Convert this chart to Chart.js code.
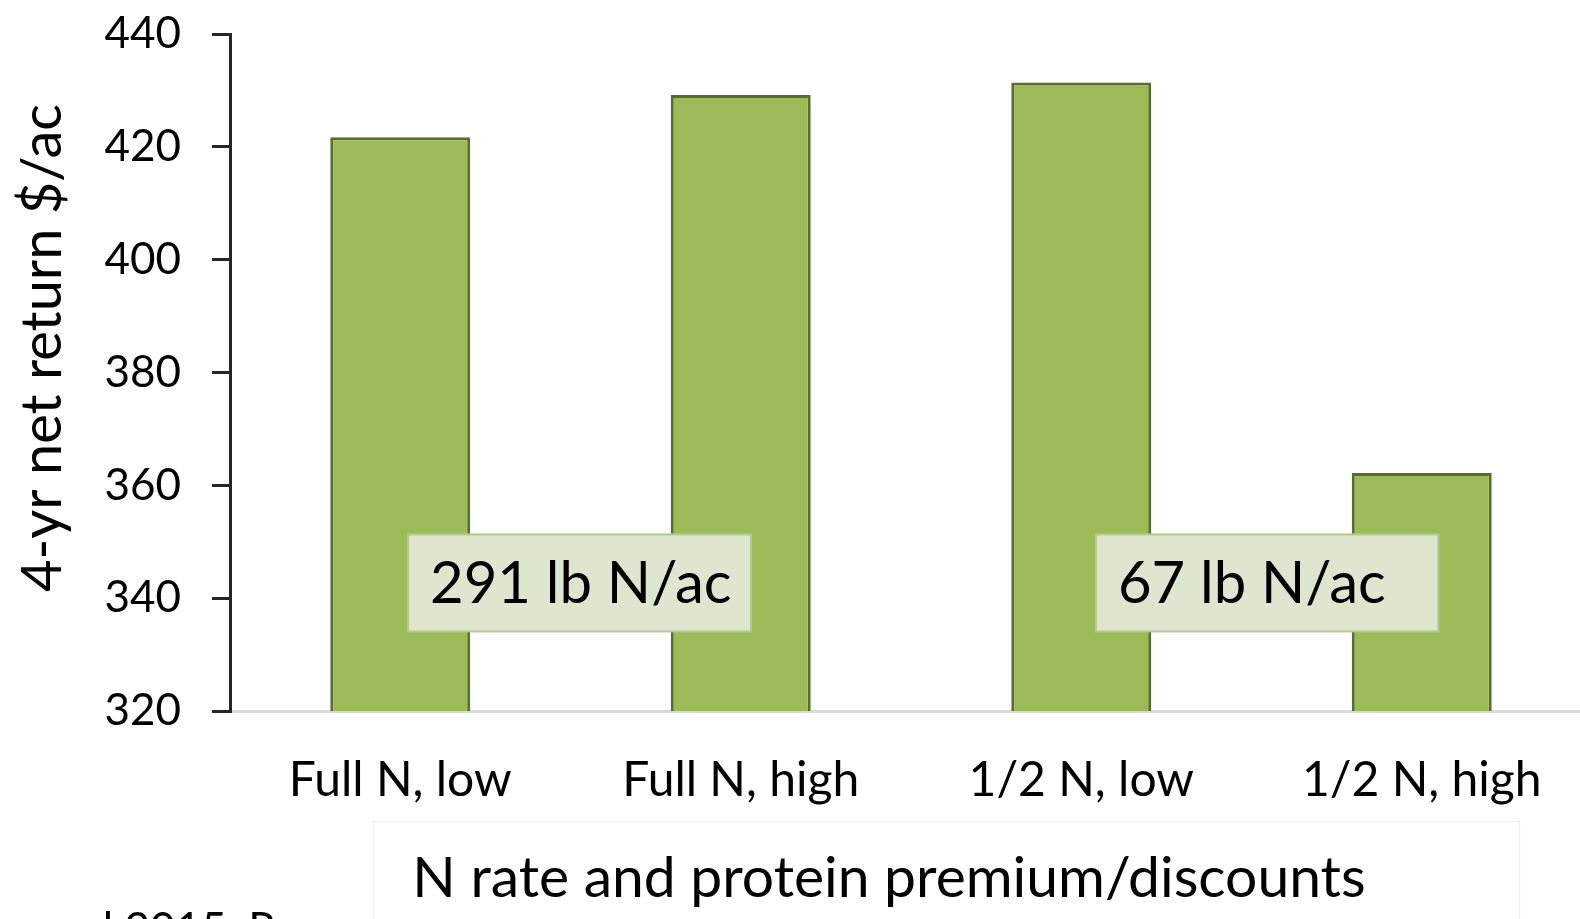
<!DOCTYPE html>
<html>
<head>
<meta charset="utf-8">
<script src="https://cdn.jsdelivr.net/npm/chart.js@4.4.1/dist/chart.umd.min.js"></script>
<style>
  html, body { margin: 0; padding: 0; background: #ffffff; overflow: hidden; }
  #wrap { position: relative; width: 1592px; height: 919px; }
</style>
</head>
<body>
<div id="wrap"><canvas id="chart"></canvas></div>
<script>
// Treatments: N rate and protein premium/discount scenario
const categories = ['Full N, low', 'Full N, high', '1/2 N, low', '1/2 N, high'];
// 4-year net return, $/ac
const netReturn = [421.7, 429.2, 431.4, 362.2];
// Y axis tick values
const yTicks = [320, 340, 360, 380, 400, 420, 440];
// N rate notes for each pair of treatments
const rateNotes = ['291 lb N/ac', '67 lb N/ac'];
// Axis titles and source line
const yTitle = '4-yr net return $/ac';
const xTitle = 'N rate and protein premium/discounts';
const sourceText = 'al 2015. R';

const FONT = 'Lato, "Open Sans", sans-serif';

// Boxes that carry the N rate notes, placed in data units
const noteBoxes = [
  { text: rateNotes[0], x0: 0.023, x1: 1.030, y0: 351.3, y1: 334.1 },
  { text: rateNotes[1], x0: 2.043, x1: 3.049, y0: 351.3, y1: 334.1 }
];

const decorations = {
  id: 'decorations',
  afterDatasetsDraw(chart) {
    const { ctx, scales: { x, y } } = chart;
    ctx.save();
    noteBoxes.forEach(b => {
      const l = x.getPixelForValue(b.x0), r = x.getPixelForValue(b.x1);
      const t = y.getPixelForValue(b.y0), btm = y.getPixelForValue(b.y1);
      ctx.fillStyle = '#dfe6d0';
      ctx.fillRect(l, t, r - l, btm - t);
      ctx.strokeStyle = '#b3ca8c';
      ctx.lineWidth = 2;
      ctx.strokeRect(l, t, r - l, btm - t);
      ctx.fillStyle = '#000000';
      ctx.font = '58px ' + FONT;
      ctx.textAlign = 'left';
      ctx.textBaseline = 'alphabetic';
      ctx.fillText(b.text, l + 22, (t + btm) / 2 + 20);
    });
    ctx.restore();
  },
  afterDraw(chart) {
    const { ctx } = chart;
    ctx.save();
    // faint frame around the x axis title
    ctx.strokeStyle = '#f0f0f0';
    ctx.lineWidth = 1.5;
    ctx.strokeRect(373.5, 821.5, 1146, 120);
    ctx.fillStyle = '#000000';
    // x axis title
    ctx.font = '57px ' + FONT;
    ctx.textAlign = 'center';
    ctx.textBaseline = 'alphabetic';
    ctx.fillText(xTitle, 889, 897);
    // y axis title
    ctx.save();
    ctx.translate(43, 348);
    ctx.rotate(-Math.PI / 2);
    ctx.font = '56px ' + FONT;
    ctx.textBaseline = 'middle';
    ctx.fillText(yTitle, 0, 0);
    ctx.restore();
    // source line, mostly below the bottom edge
    ctx.font = '44px ' + FONT;
    ctx.textAlign = 'left';
    ctx.fillText(sourceText, 81, 944);
    ctx.restore();
  }
};

new Chart(document.getElementById('chart'), {
  type: 'bar',
  data: {
    labels: categories,
    datasets: [{
      data: netReturn,
      backgroundColor: '#9bbb59',
      borderColor: '#55702c',
      borderWidth: 3,
      categoryPercentage: 1.0,
      barPercentage: 0.411
    }]
  },
  options: {
    responsive: true,
    maintainAspectRatio: false,
    animation: false,
    devicePixelRatio: 1,
    layout: { padding: { top: 34, right: 0, bottom: 0, left: 0 } },
    plugins: {
      legend: { display: false },
      tooltip: { enabled: false },
      title: { display: false }
    },
    scales: {
      x: {
        grid: { display: false, drawTicks: false },
        border: { display: true, color: '#d9d9d9', width: 3 },
        ticks: {
          color: '#000000',
          font: { family: FONT, size: 48 },
          padding: 41,
          maxRotation: 0,
          autoSkip: false
        },
        afterFit(scale) { scale.height = 208; scale.paddingLeft = 0; scale.paddingRight = 0; }
      },
      y: {
        min: 320,
        max: 440,
        afterBuildTicks(scale) { scale.ticks = yTicks.map(v => ({ value: v })); },
        grid: {
          drawOnChartArea: false,
          drawTicks: true,
          tickLength: 18,
          color: '#262626',
          lineWidth: 3
        },
        border: { display: true, color: '#262626', width: 3 },
        ticks: {
          color: '#000000',
          font: { family: FONT, size: 44 },
          padding: 31
        },
        afterFit(scale) { scale.width = 230; scale.paddingTop = 0; scale.paddingBottom = 0; }
      }
    }
  },
  plugins: [decorations]
});
</script>
</body>
</html>
